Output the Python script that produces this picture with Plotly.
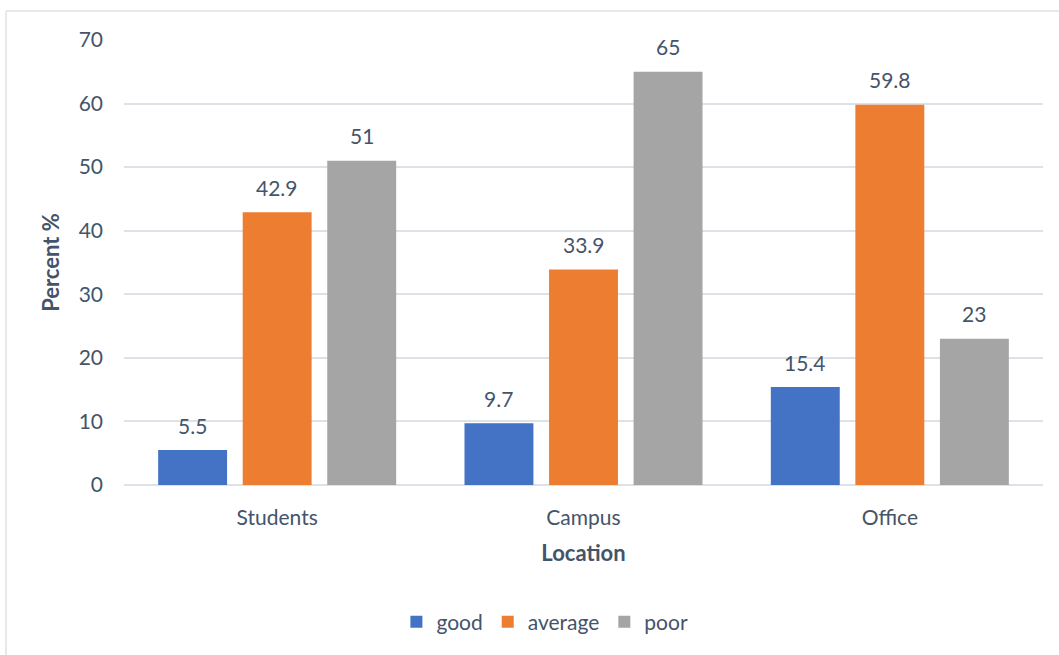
import plotly.graph_objects as go

# Survey ratings by location (percent of respondents)
locations = ["Students", "Campus", "Office"]
good = [5.5, 9.7, 15.4]
average = [42.9, 33.9, 59.8]
poor = [51, 65, 23]

series_names = ["good", "average", "poor"]
series_values = [good, average, poor]
series_colors = ["#4472C4", "#ED7D31", "#A5A5A5"]

TEXT = "#44546A"
FONT = "Lato, Carlito, Calibri, sans-serif"

# bar geometry inside each category slot (category units)
BAR_WIDTH = 0.225
BAR_STEP = 0.276
first_offset = -(BAR_STEP * 2 + BAR_WIDTH) / 2

fig = go.Figure()
annotations = []
for k, (name, vals, color) in enumerate(zip(series_names, series_values, series_colors)):
    off = first_offset + k * BAR_STEP
    fig.add_trace(go.Bar(
        name=name,
        x=locations,
        y=vals,
        offset=off,
        width=BAR_WIDTH,
        marker=dict(color=color, line=dict(width=0)),
        hoverinfo="x+y+name",
    ))
    # value labels above each bar
    for i, v in enumerate(vals):
        annotations.append(dict(
            x=i + off + BAR_WIDTH / 2, y=v, xref="x", yref="y",
            text=f"{v:g}", showarrow=False,
            yanchor="middle", yshift=25,
            font=dict(color=TEXT, size=21, family=FONT),
        ))

frame_left = (6 - 124) / 919
frame_top = (485 - 11) / 445

fig.update_layout(
    width=1059,
    height=655,
    margin=dict(l=124, r=16, t=40, b=170),
    paper_bgcolor="white",
    plot_bgcolor="white",
    barmode="group",
    font=dict(family=FONT, color=TEXT, size=21),
    showlegend=True,
    legend=dict(
        orientation="h",
        x=0.458, xanchor="center",
        y=-0.308, yanchor="middle",
        font=dict(size=21, color=TEXT),
        itemwidth=30,
        traceorder="normal",
    ),
    xaxis=dict(
        showgrid=False,
        showline=False,
        ticks="",
        ticklabelstandoff=18,
        tickfont=dict(size=21, color=TEXT),
        title=dict(text="<b>Location</b>", font=dict(size=22, color=TEXT), standoff=17),
        range=[-0.5, 2.5],
    ),
    yaxis=dict(
        range=[0, 70],
        dtick=10,
        showgrid=True,
        gridcolor="#DDE2E8",
        gridwidth=1.5,
        zeroline=True,
        zerolinecolor="#DDE2E8",
        zerolinewidth=1.5,
        showline=False,
        ticks="",
        ticklabelstandoff=20,
        tickfont=dict(size=21, color=TEXT),
        title=dict(text="<b>Percent %</b>", font=dict(size=22, color=TEXT), standoff=12),
    ),
    annotations=annotations,
    shapes=[
        # chart frame edges
        dict(type="line", xref="paper", yref="paper",
             x0=frame_left, x1=(1059 - 124) / 919,
             y0=frame_top, y1=frame_top,
             line=dict(color="#DCE3EA", width=1.5)),
        dict(type="line", xref="paper", yref="paper",
             x0=frame_left, x1=frame_left,
             y0=frame_top, y1=(485 - 655) / 445,
             line=dict(color="#DCE3EA", width=1.5)),
    ],
)

fig.write_html("out.html")
